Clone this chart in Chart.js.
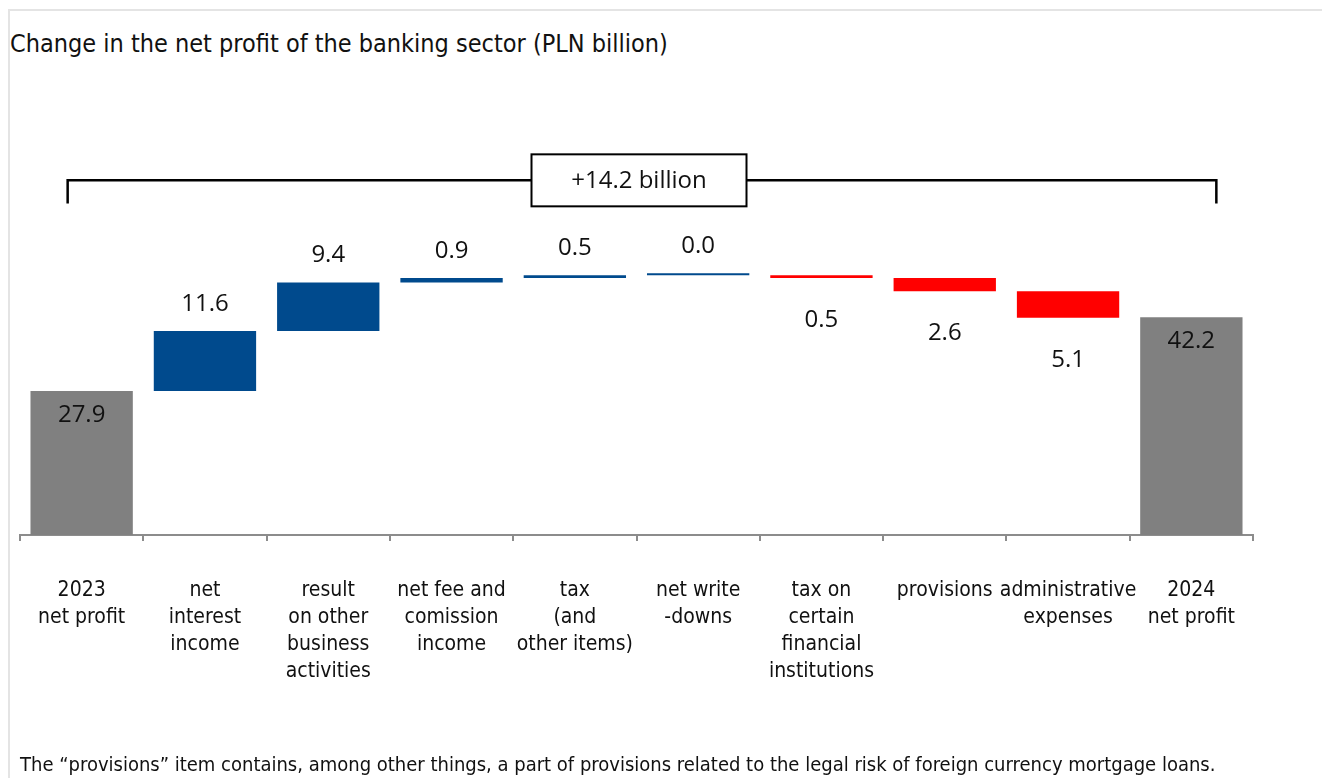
<!DOCTYPE html>
<html>
<head>
<meta charset="utf-8">
<script src="https://cdn.jsdelivr.net/npm/chart.js@4.4.1/dist/chart.umd.min.js"></script>
<style>
  html, body { margin: 0; padding: 0; background: #fff; }
  #wrap { position: relative; width: 1322px; height: 778px; overflow: hidden; }
  #frame { position: absolute; left: 8px; top: 9px; right: -4px; bottom: -4px;
           border-top: 2px solid #e4e4e4; border-left: 2px solid #e4e4e4; }
  #title { position: absolute; left: 10px; top: 29px; font-family: "Liberation Sans Narrow", "DejaVu Sans Condensed", sans-serif;
           font-size: 25px; color: #111; white-space: nowrap; }
  #note { position: absolute; left: 20px; top: 752px; font-family: "Liberation Sans Narrow", "DejaVu Sans Condensed", sans-serif;
          font-size: 20px; color: #111; white-space: nowrap; }
  canvas { position: absolute; left: 0; top: 0; }
</style>
</head>
<body>
<div id="wrap">
  <div id="frame"></div>
  <div id="title">Change in the net profit of the banking sector (PLN billion)</div>
  <canvas id="c" width="1322" height="778"></canvas>
  <div id="note">The “provisions” item contains, among other things, a part of provisions related to the legal risk of foreign currency mortgage loans.</div>
</div>
<script>
// ---- data ----
const categories = [
  ["2023", "net profit"],
  ["net", "interest", "income"],
  ["result", "on other", "business", "activities"],
  ["net fee and", "comission", "income"],
  ["tax", "(and", "other items)"],
  ["net write", "-downs"],
  ["tax on", "certain", "financial", "institutions"],
  ["provisions"],
  ["administrative", "expenses"],
  ["2024", "net profit"]
];
const startValue = 27.9;
const changes = [11.6, 9.4, 0.9, 0.5, 0.0, -0.5, -2.6, -5.1];
const endValue = 42.2;
const totalChangeLabel = "+14.2 billion";

const GREY = "#808080", BLUE = "#004A8D", RED = "#FF0000";

// build floating bars
const barData = [], barColors = [], labelKinds = [], labelValues = [];
barData.push([0, startValue]); barColors.push(GREY); labelKinds.push("total"); labelValues.push(startValue);
let run = startValue;
changes.forEach(v => {
  const from = run, to = run + v;
  barData.push([Math.min(from, to), Math.max(from, to)]);
  barColors.push(v >= 0 ? BLUE : RED);
  labelKinds.push(v >= 0 ? "up" : "down");
  labelValues.push(v);
  run = to;
});
barData.push([0, endValue]); barColors.push(GREY); labelKinds.push("total"); labelValues.push(endValue);

const labelFont = '24px "Open Sans", "Noto Sans", sans-serif';

const waterfallLabels = {
  id: 'waterfallLabels',
  afterDatasetsDraw(chart) {
    const ctx = chart.ctx;
    const meta = chart.getDatasetMeta(0);
    ctx.save();
    ctx.font = labelFont;
    ctx.fillStyle = "#111";
    ctx.textAlign = "center";
    ctx.textBaseline = "middle";
    meta.data.forEach((el, i) => {
      const top = Math.min(el.y, el.base), bottom = Math.max(el.y, el.base);
      const txt = Math.abs(labelValues[i]).toFixed(1);
      let y;
      if (labelKinds[i] === "total") y = top + 24;
      else if (labelKinds[i] === "up") y = top - 27;
      else y = bottom + 42;
      ctx.fillText(txt, el.x, y);
    });
    ctx.restore();
  }
};

const bracket = {
  id: 'bracket',
  afterDraw(chart) {
    const ctx = chart.ctx;
    const xs = chart.scales.x, ys = chart.scales.y;
    const x0 = xs.getPixelForValue(0) - 14;
    const x1 = xs.getPixelForValue(categories.length - 1) + 25;
    const yLine = ys.getPixelForValue(68.7);
    const yEnd = ys.getPixelForValue(64.2);
    ctx.save();
    ctx.strokeStyle = "#000";
    ctx.lineWidth = 2.5;
    ctx.beginPath();
    ctx.moveTo(x0, yEnd); ctx.lineTo(x0, yLine); ctx.lineTo(x1, yLine); ctx.lineTo(x1, yEnd);
    ctx.stroke();
    // box
    const cx = (x0 + x1) / 2 - 3;
    const bw = 215, bh = 52;
    ctx.fillStyle = "#fff";
    ctx.fillRect(cx - bw / 2, yLine - bh / 2, bw, bh);
    ctx.lineWidth = 2;
    ctx.strokeRect(cx - bw / 2, yLine - bh / 2, bw, bh);
    ctx.font = labelFont;
    ctx.fillStyle = "#111";
    ctx.textAlign = "center";
    ctx.textBaseline = "middle";
    ctx.fillText(totalChangeLabel, cx, yLine + 1);
    ctx.restore();
  }
};

new Chart(document.getElementById('c'), {
  type: 'bar',
  data: {
    labels: categories,
    datasets: [{
      data: barData,
      backgroundColor: barColors,
      borderWidth: 0,
      barPercentage: 0.83,
      categoryPercentage: 1.0,
      minBarLength: 2
    }]
  },
  options: {
    responsive: false,
    animation: false,
    layout: { padding: { left: 20, right: 69, top: 122, bottom: 0 } },
    plugins: { legend: { display: false }, tooltip: { enabled: false }, title: { display: false } },
    scales: {
      x: {
        grid: { drawOnChartArea: false, drawTicks: true, tickLength: 6, color: "#8c8c8c", lineWidth: 2, offset: true },
        border: { display: true, color: "#8c8c8c", width: 2 },
        ticks: {
          autoSkip: false, maxRotation: 0, minRotation: 0, padding: 36, color: "#111",
          font: { family: '"Liberation Sans Narrow", "DejaVu Sans Condensed", sans-serif', size: 21, lineHeight: 1.29 }
        },
        afterFit(scale) { scale.height = 243; }
      },
      y: { display: false, min: 0, max: 80 }
    }
  },
  plugins: [waterfallLabels, bracket]
});
</script>
</body>
</html>
